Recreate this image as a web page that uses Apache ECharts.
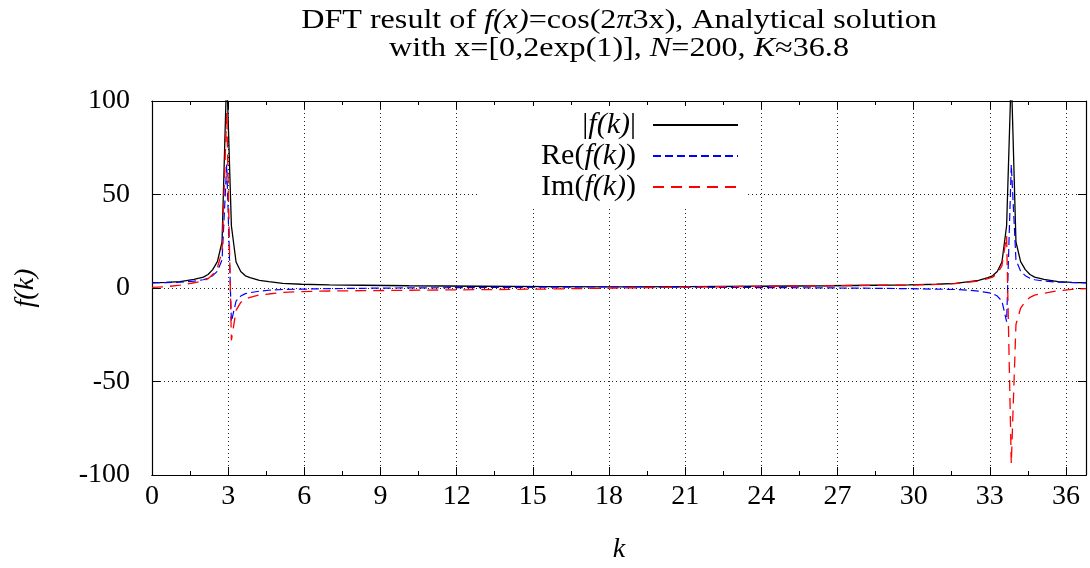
<!DOCTYPE html>
<html>
<head>
<meta charset="utf-8">
<script src="https://cdn.jsdelivr.net/npm/echarts@6/dist/echarts.min.js"></script>
<style>html,body{margin:0;padding:0;background:#fff;}#chart{width:1090px;height:568px;}</style>
</head>
<body>
<div id="chart"></div>
<script>
// k values (sample positions)
const kValues = [0, 0.552, 1.104, 1.655, 2.023, 2.207, 2.391, 2.575, 2.759, 2.943, 3.127, 3.311, 3.495, 3.679, 3.863, 4.231, 4.599, 5.150, 5.886, 6.990, 8.277, 10.117, 12.876, 15.635, 18.394,
  21.153, 23.912, 26.671, 28.511, 29.798, 30.902, 31.638, 32.190, 32.557, 32.925, 33.109, 33.293, 33.477, 33.661, 33.845, 34.029, 34.213, 34.397, 34.581, 34.765, 35.133, 35.684, 36.236, 36.788];
const absValues = [2.8, 3.0, 3.4, 4.6, 5.8, 7.2, 9.8, 14.1, 24.6, 115, 33.3, 13.9, 8.8, 6.5, 5.6, 4.1, 3.4, 2.45, 2.0, 1.64, 1.46, 1.2, 0.93, 0.71, 0.6,
  0.71, 0.93, 1.2, 1.46, 1.64, 2.0, 2.45, 3.4, 4.1, 5.6, 6.5, 8.8, 13.9, 33.3, 115, 24.6, 14.1, 9.8, 7.2, 5.8, 4.6, 3.4, 3.0, 2.8];
const reValues = [2.8, 2.9, 3.1, 3.7, 4.4, 5.2, 6.6, 9.0, 15.0, 66, -18, -7.0, -4.3, -3.0, -2.5, -1.7, -1.2, -0.8, -0.6, -0.35, -0.15, 0.05, 0.25, 0.45, 0.6,
  0.45, 0.25, 0.05, -0.15, -0.35, -0.6, -0.8, -1.2, -1.7, -2.5, -3.0, -4.3, -7.0, -18, 66, 15.0, 9.0, 6.6, 5.2, 4.4, 3.7, 3.1, 2.9, 2.8];
const imValues = [0.3, 0.7, 1.5, 2.8, 3.8, 5.0, 7.2, 10.8, 19.5, 94, -28, -12.0, -7.7, -5.8, -5.0, -3.7, -3.2, -2.3, -1.9, -1.6, -1.45, -1.2, -0.9, -0.55, 0,
  0.55, 0.9, 1.2, 1.45, 1.6, 1.9, 2.3, 3.2, 3.7, 5.0, 5.8, 7.7, 12.0, 28, -94, -19.5, -10.8, -7.2, -5.0, -3.8, -2.8, -1.5, -0.7, -0.3];
const seriesNames = ['|f(k)|', 'Re(f(k))', 'Im(f(k))'];
const xTickInterval = 3;
const yTickInterval = 50;

const FONT = 'Liberation Serif';
const FS = 28;
const kMax = 36.788;

function pairs(vals) { return kValues.map((k, i) => [k, vals[i]]); }

const chart = echarts.init(document.getElementById('chart'));
const tickMajor = { show: true, inside: true, length: 8, lineStyle: { color: '#000', width: 1 } };
const tickMinor = { show: true, inside: true, length: 4, lineStyle: { color: '#000', width: 1 } };
const baseX = { type: 'value', min: 0, max: kMax, axisLine: { show: true, onZero: false, lineStyle: { color: '#000', width: 1.2 } }, splitLine: { show: false }, axisLabel: { show: false } };

const legendFmt = {
  '|f(k)|': '|{i|f(k)}|',
  'Re(f(k))': 'Re({i|f(k)})',
  'Im(f(k))': 'Im({i|f(k)})'
};

chart.setOption({
  animation: false,
  backgroundColor: '#fff',
  grid: { left: 152, right: 4, top: 101, bottom: 93, containLabel: false, outerBoundsMode: 'none' },
  graphic: [{
    type: 'text', x: 619, y: 7, scaleX: 1.19,
    style: {
      text: 'DFT result of {i|f(x)}=cos(2{i|π}3x), Analytical solution\nwith x=[0,2exp(1)], {i|N}=200, {i|K}≈36.8',
      align: 'center', verticalAlign: 'top',
      fontFamily: FONT, fontSize: 27, lineHeight: 28, fill: '#000',
      rich: { i: { fontStyle: 'italic', fontFamily: FONT, fontSize: 27, lineHeight: 28 } }
    }
  }],
  legend: {
    orient: 'vertical', left: 480, top: 106, align: 'right',
    itemWidth: 85, itemHeight: 14, itemGap: 1,
    padding: [4, 7, 5, 6], backgroundColor: '#fff',
    itemStyle: { color: 'rgba(0,0,0,0)', borderWidth: 0, opacity: 0 },
    data: seriesNames,
    formatter: n => legendFmt[n],
    textStyle: { fontFamily: FONT, fontSize: 30, color: '#000', width: 150, lineHeight: 28, padding: [0, 12, 0, 0],
      rich: { i: { fontStyle: 'italic', fontFamily: FONT, fontSize: 30, color: '#000', lineHeight: 28 } } }
  },
  xAxis: [
    Object.assign({}, baseX, { position: 'bottom', interval: xTickInterval, axisTick: tickMajor,
      axisLabel: { show: true, showMaxLabel: false, fontFamily: FONT, fontSize: FS, color: '#000', margin: 8 },
      splitLine: { show: true, lineStyle: { color: '#222', width: 1, type: [1, 3] } },
      name: 'k', nameLocation: 'middle', nameGap: 61,
      nameTextStyle: { fontFamily: FONT, fontSize: FS, fontStyle: 'italic', color: '#000' } }),
    Object.assign({}, baseX, { position: 'bottom', interval: xTickInterval / 2, axisTick: tickMinor }),
    Object.assign({}, baseX, { position: 'top', interval: xTickInterval, axisTick: tickMajor }),
    Object.assign({}, baseX, { position: 'top', interval: xTickInterval / 2, axisTick: tickMinor })
  ],
  yAxis: [
    { type: 'value', min: -100, max: 100, interval: yTickInterval, position: 'left',
      axisLine: { show: true, onZero: false, lineStyle: { color: '#000', width: 1.2 } },
      axisTick: tickMajor,
      axisLabel: { fontFamily: FONT, fontSize: FS, color: '#000', margin: 22 },
      splitLine: { show: true, lineStyle: { color: '#222', width: 1, type: [1, 3] } },
      name: 'f(k)', nameLocation: 'middle', nameGap: 112, nameRotate: 90,
      nameTextStyle: { fontFamily: FONT, fontSize: FS, fontStyle: 'italic', color: '#000' } },
    { type: 'value', min: -100, max: 100, interval: yTickInterval, position: 'right',
      axisLine: { show: true, onZero: false, lineStyle: { color: '#000', width: 1.2 } },
      axisTick: tickMajor, axisLabel: { show: false }, splitLine: { show: false } }
  ],
  series: [
    { name: seriesNames[0], type: 'line', data: pairs(absValues), symbol: 'none', clip: true,
      lineStyle: { color: '#000', width: 1.3 }, itemStyle: { color: '#000' } },
    { name: seriesNames[1], type: 'line', data: pairs(reValues), symbol: 'none', clip: true,
      lineStyle: { color: '#0000ff', width: 1.2, type: [8, 4] }, itemStyle: { color: '#0000ff' } },
    { name: seriesNames[2], type: 'line', data: pairs(imValues), symbol: 'none', clip: true,
      lineStyle: { color: '#ff0000', width: 1.3, type: [11, 7] }, itemStyle: { color: '#ff0000' } }
  ]
});
</script>
</body>
</html>
